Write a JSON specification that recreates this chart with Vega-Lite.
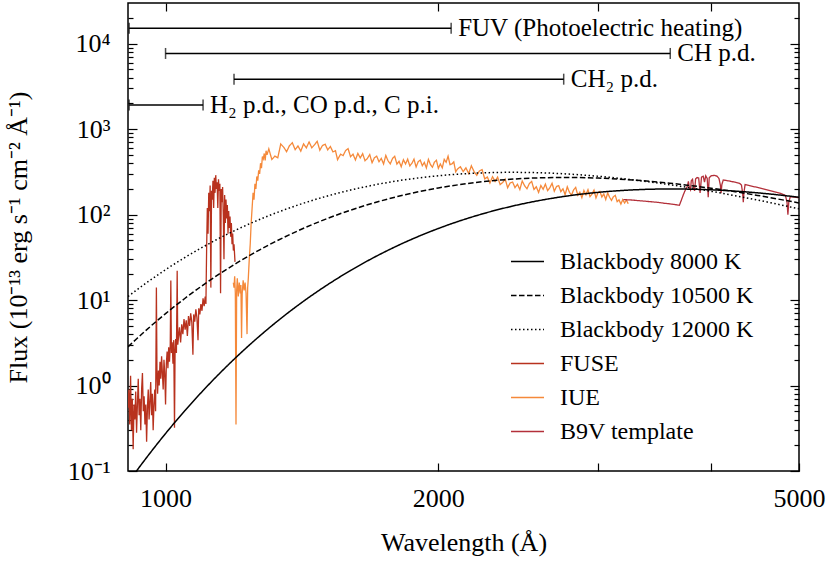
{
  "$schema": "https://vega.github.io/schema/vega-lite/v6.json",
  "autosize": {"type": "none"},
  "padding": {"left": 128, "top": 3, "right": 31, "bottom": 93},
  "width": 671,
  "height": 468,
  "background": "white",
  "config": {
    "font": "Liberation Serif, Times New Roman, serif",
    "view": {"stroke": "black", "strokeWidth": 1.5},
    "axis": {"domain": false, "grid": false, "tickColor": "black", "tickWidth": 1.2, "labelFont": "Liberation Serif, Times New Roman, serif", "titleFont": "Liberation Serif, Times New Roman, serif", "labelColor": "black", "titleColor": "black", "titleFontWeight": "normal"},
    "legend": {"labelFont": "Liberation Serif, Times New Roman, serif"},
    "text": {"font": "Liberation Serif, Times New Roman, serif"}
  },
  "datasets": {
    "spectra": [
      {"s":"FUSE","wl":909,"f":0.55},{"s":"FUSE","wl":911,"f":0.9},{"s":"FUSE","wl":913,"f":0.35},{"s":"FUSE","wl":915,"f":1.3},{"s":"FUSE","wl":917,"f":0.3},{"s":"FUSE","wl":919,"f":0.7},{"s":"FUSE","wl":921,"f":0.18},{"s":"FUSE","wl":923,"f":0.6},{"s":"FUSE","wl":925,"f":0.4},{"s":"FUSE","wl":927,"f":0.85},{"s":"FUSE","wl":929,"f":0.28},{"s":"FUSE","wl":931,"f":0.6},{"s":"FUSE","wl":933,"f":1.2},{"s":"FUSE","wl":935,"f":0.45},{"s":"FUSE","wl":937,"f":0.7},{"s":"FUSE","wl":939,"f":0.3},{"s":"FUSE","wl":941,"f":0.9},{"s":"FUSE","wl":943,"f":1.4},{"s":"FUSE","wl":945,"f":0.5},{"s":"FUSE","wl":947,"f":0.75},{"s":"FUSE","wl":949,"f":0.35},{"s":"FUSE","wl":951,"f":0.6},{"s":"FUSE","wl":953,"f":0.22},{"s":"FUSE","wl":955,"f":0.55},{"s":"FUSE","wl":957,"f":0.9},{"s":"FUSE","wl":959,"f":0.4},{"s":"FUSE","wl":961,"f":0.65},{"s":"FUSE","wl":963,"f":1.1},{"s":"FUSE","wl":965,"f":0.45},{"s":"FUSE","wl":967,"f":0.8},{"s":"FUSE","wl":969,"f":0.3},{"s":"FUSE","wl":971,"f":0.6},{"s":"FUSE","wl":973,"f":0.9},{"s":"FUSE","wl":975,"f":0.5},
      {"s":"FUSE","wl":977,"f":14},{"s":"FUSE","wl":978.5,"f":1.3},{"s":"FUSE","wl":980,"f":0.8},{"s":"FUSE","wl":982,"f":1.5},{"s":"FUSE","wl":984,"f":1.0},{"s":"FUSE","wl":986,"f":1.9},{"s":"FUSE","wl":988,"f":1.2},{"s":"FUSE","wl":990,"f":2.2},{"s":"FUSE","wl":992,"f":1.4},{"s":"FUSE","wl":994,"f":0.9},{"s":"FUSE","wl":996,"f":2.0},{"s":"FUSE","wl":998,"f":1.4},{"s":"FUSE","wl":1000,"f":0.6},{"s":"FUSE","wl":1002,"f":1.8},{"s":"FUSE","wl":1004,"f":2.5},{"s":"FUSE","wl":1006,"f":1.6},{"s":"FUSE","wl":1008,"f":2.8},{"s":"FUSE","wl":1010,"f":1.9},{"s":"FUSE","wl":1012,"f":3.0},{"s":"FUSE","wl":1013.5,"f":17},{"s":"FUSE","wl":1015,"f":2.4},{"s":"FUSE","wl":1017,"f":3.2},{"s":"FUSE","wl":1019,"f":1.8},{"s":"FUSE","wl":1021,"f":3.4},{"s":"FUSE","wl":1023,"f":0.32},{"s":"FUSE","wl":1024.5,"f":2.6},{"s":"FUSE","wl":1026,"f":3.5},{"s":"FUSE","wl":1028,"f":2.4},{"s":"FUSE","wl":1030,"f":22},{"s":"FUSE","wl":1031.5,"f":3.0},
      {"s":"FUSE","wl":1033,"f":3.5},{"s":"FUSE","wl":1036,"f":4.8},{"s":"FUSE","wl":1039,"f":3.2},{"s":"FUSE","wl":1042,"f":5.2},{"s":"FUSE","wl":1045,"f":4.0},{"s":"FUSE","wl":1048,"f":6.0},{"s":"FUSE","wl":1051,"f":4.5},{"s":"FUSE","wl":1054,"f":5.8},{"s":"FUSE","wl":1057,"f":3.8},{"s":"FUSE","wl":1060,"f":6.5},{"s":"FUSE","wl":1063,"f":5.0},{"s":"FUSE","wl":1066,"f":7.0},{"s":"FUSE","wl":1069,"f":5.5},{"s":"FUSE","wl":1072,"f":2.3},{"s":"FUSE","wl":1074,"f":6.8},{"s":"FUSE","wl":1077,"f":5.6},{"s":"FUSE","wl":1080,"f":7.8},{"s":"FUSE","wl":1083,"f":6.2},{"s":"FUSE","wl":1086,"f":3.4},{"s":"FUSE","wl":1088,"f":8.0},{"s":"FUSE","wl":1091,"f":6.8},{"s":"FUSE","wl":1094,"f":9.0},{"s":"FUSE","wl":1097,"f":7.5},{"s":"FUSE","wl":1100,"f":10.5},{"s":"FUSE","wl":1103,"f":8.5},{"s":"FUSE","wl":1106,"f":11},{"s":"FUSE","wl":1108,"f":9},
      {"s":"FUSE","wl":1110,"f":40},{"s":"FUSE","wl":1112,"f":120},{"s":"FUSE","wl":1114,"f":60},{"s":"FUSE","wl":1116,"f":180},{"s":"FUSE","wl":1118,"f":110},{"s":"FUSE","wl":1120,"f":220},{"s":"FUSE","wl":1122,"f":14},{"s":"FUSE","wl":1124,"f":190},{"s":"FUSE","wl":1126,"f":150},{"s":"FUSE","wl":1128,"f":250},{"s":"FUSE","wl":1130,"f":120},{"s":"FUSE","wl":1132,"f":270},{"s":"FUSE","wl":1134,"f":180},{"s":"FUSE","wl":1136,"f":290},{"s":"FUSE","wl":1138,"f":200},{"s":"FUSE","wl":1140,"f":240},{"s":"FUSE","wl":1142,"f":120},{"s":"FUSE","wl":1144,"f":260},{"s":"FUSE","wl":1146,"f":190},{"s":"FUSE","wl":1148,"f":230},{"s":"FUSE","wl":1150,"f":12},{"s":"FUSE","wl":1152,"f":200},{"s":"FUSE","wl":1154,"f":140},{"s":"FUSE","wl":1156,"f":210},{"s":"FUSE","wl":1158,"f":100},{"s":"FUSE","wl":1160,"f":30},{"s":"FUSE","wl":1162,"f":170},{"s":"FUSE","wl":1164,"f":80},{"s":"FUSE","wl":1166,"f":150},{"s":"FUSE","wl":1168,"f":90},{"s":"FUSE","wl":1170,"f":130},{"s":"FUSE","wl":1172,"f":60},{"s":"FUSE","wl":1174,"f":110},{"s":"FUSE","wl":1176,"f":70},{"s":"FUSE","wl":1178,"f":95},{"s":"FUSE","wl":1180,"f":55},{"s":"FUSE","wl":1182,"f":80},{"s":"FUSE","wl":1184,"f":45},{"s":"FUSE","wl":1186,"f":60},{"s":"FUSE","wl":1188,"f":38},{"s":"FUSE","wl":1190,"f":45},{"s":"FUSE","wl":1193,"f":28},
      {"s":"IUE","wl":1188,"f":16},{"s":"IUE","wl":1190,"f":14},{"s":"IUE","wl":1192,"f":19},{"s":"IUE","wl":1194,"f":12},{"s":"IUE","wl":1196,"f":0.35},{"s":"IUE","wl":1198,"f":13},{"s":"IUE","wl":1200,"f":18},{"s":"IUE","wl":1203,"f":11},{"s":"IUE","wl":1206,"f":16},{"s":"IUE","wl":1209,"f":12},{"s":"IUE","wl":1211,"f":15},{"s":"IUE","wl":1213,"f":3.6},{"s":"IUE","wl":1215,"f":12},{"s":"IUE","wl":1218,"f":17},{"s":"IUE","wl":1221,"f":13},{"s":"IUE","wl":1224,"f":16},{"s":"IUE","wl":1227,"f":12},{"s":"IUE","wl":1230,"f":4.0},{"s":"IUE","wl":1232,"f":14},{"s":"IUE","wl":1234,"f":18},{"s":"IUE","wl":1237,"f":30},{"s":"IUE","wl":1240,"f":45},{"s":"IUE","wl":1243,"f":80},{"s":"IUE","wl":1246,"f":120},{"s":"IUE","wl":1249,"f":180},{"s":"IUE","wl":1252,"f":150},{"s":"IUE","wl":1255,"f":230},{"s":"IUE","wl":1258,"f":200},{"s":"IUE","wl":1261,"f":280},{"s":"IUE","wl":1264,"f":250},{"s":"IUE","wl":1267,"f":330},{"s":"IUE","wl":1270,"f":300},{"s":"IUE","wl":1273,"f":400},{"s":"IUE","wl":1276,"f":350},{"s":"IUE","wl":1279,"f":480},{"s":"IUE","wl":1282,"f":450},{"s":"IUE","wl":1285,"f":520},{"s":"IUE","wl":1288,"f":430},{"s":"IUE","wl":1291,"f":560},{"s":"IUE","wl":1294,"f":500},
      {"s":"IUE","wl":1300,"f":589},{"s":"IUE","wl":1310,"f":442},{"s":"IUE","wl":1320,"f":484},{"s":"IUE","wl":1330,"f":463},{"s":"IUE","wl":1340,"f":672},{"s":"IUE","wl":1350,"f":617},{"s":"IUE","wl":1360,"f":546},{"s":"IUE","wl":1370,"f":641},{"s":"IUE","wl":1380,"f":695},{"s":"IUE","wl":1390,"f":577},{"s":"IUE","wl":1400,"f":636},{"s":"IUE","wl":1410,"f":554},{"s":"IUE","wl":1420,"f":674},{"s":"IUE","wl":1430,"f":605},{"s":"IUE","wl":1440,"f":710},{"s":"IUE","wl":1450,"f":607},{"s":"IUE","wl":1460,"f":658},{"s":"IUE","wl":1470,"f":722},{"s":"IUE","wl":1480,"f":567},{"s":"IUE","wl":1490,"f":645},{"s":"IUE","wl":1500,"f":667},{"s":"IUE","wl":1510,"f":573},{"s":"IUE","wl":1520,"f":628},{"s":"IUE","wl":1530,"f":543},{"s":"IUE","wl":1540,"f":560},{"s":"IUE","wl":1548,"f":440},{"s":"IUE","wl":1555,"f":480},{"s":"IUE","wl":1560,"f":510},{"s":"IUE","wl":1570,"f":491},{"s":"IUE","wl":1580,"f":562},{"s":"IUE","wl":1590,"f":593},{"s":"IUE","wl":1600,"f":476},{"s":"IUE","wl":1610,"f":510},{"s":"IUE","wl":1620,"f":437},{"s":"IUE","wl":1630,"f":522},{"s":"IUE","wl":1640,"f":461},{"s":"IUE","wl":1650,"f":517},{"s":"IUE","wl":1660,"f":428},{"s":"IUE","wl":1670,"f":455},{"s":"IUE","wl":1680,"f":505},{"s":"IUE","wl":1690,"f":405},{"s":"IUE","wl":1700,"f":463},{"s":"IUE","wl":1710,"f":484},{"s":"IUE","wl":1720,"f":416},{"s":"IUE","wl":1730,"f":455},{"s":"IUE","wl":1740,"f":392},{"s":"IUE","wl":1750,"f":493},{"s":"IUE","wl":1760,"f":427},{"s":"IUE","wl":1770,"f":393},{"s":"IUE","wl":1780,"f":454},{"s":"IUE","wl":1790,"f":483},{"s":"IUE","wl":1800,"f":391},{"s":"IUE","wl":1810,"f":421},{"s":"IUE","wl":1820,"f":364},{"s":"IUE","wl":1830,"f":440},{"s":"IUE","wl":1840,"f":392},{"s":"IUE","wl":1850,"f":446},{"s":"IUE","wl":1860,"f":372},{"s":"IUE","wl":1870,"f":399},{"s":"IUE","wl":1880,"f":446},{"s":"IUE","wl":1890,"f":361},{"s":"IUE","wl":1900,"f":416},{"s":"IUE","wl":1910,"f":435},{"s":"IUE","wl":1920,"f":374},{"s":"IUE","wl":1930,"f":409},{"s":"IUE","wl":1940,"f":352},{"s":"IUE","wl":1950,"f":444},{"s":"IUE","wl":1960,"f":387},{"s":"IUE","wl":1970,"f":359},{"s":"IUE","wl":1980,"f":411},{"s":"IUE","wl":1990,"f":434},{"s":"IUE","wl":2000,"f":349},{"s":"IUE","wl":2010,"f":392},{"s":"IUE","wl":2020,"f":353},{"s":"IUE","wl":2030,"f":443},{"s":"IUE","wl":2040,"f":410},{"s":"IUE","wl":2050,"f":484},{"s":"IUE","wl":2060,"f":385},{"s":"IUE","wl":2070,"f":392},{"s":"IUE","wl":2080,"f":415},{"s":"IUE","wl":2090,"f":317},{"s":"IUE","wl":2100,"f":343},{"s":"IUE","wl":2115,"f":364},{"s":"IUE","wl":2130,"f":319},{"s":"IUE","wl":2145,"f":353},{"s":"IUE","wl":2160,"f":303},{"s":"IUE","wl":2175,"f":373},{"s":"IUE","wl":2190,"f":319},{"s":"IUE","wl":2205,"f":289},{"s":"IUE","wl":2220,"f":325},{"s":"IUE","wl":2235,"f":337},{"s":"IUE","wl":2250,"f":262},{"s":"IUE","wl":2265,"f":276},{"s":"IUE","wl":2280,"f":234},{"s":"IUE","wl":2295,"f":278},{"s":"IUE","wl":2310,"f":245},{"s":"IUE","wl":2325,"f":275},{"s":"IUE","wl":2340,"f":225},{"s":"IUE","wl":2355,"f":238},{"s":"IUE","wl":2370,"f":261},{"s":"IUE","wl":2385,"f":207},{"s":"IUE","wl":2400,"f":235},{"s":"IUE","wl":2415,"f":241},{"s":"IUE","wl":2430,"f":207},{"s":"IUE","wl":2445,"f":227},{"s":"IUE","wl":2460,"f":197},{"s":"IUE","wl":2475,"f":248},{"s":"IUE","wl":2490,"f":218},{"s":"IUE","wl":2505,"f":201},{"s":"IUE","wl":2520,"f":231},{"s":"IUE","wl":2535,"f":245},{"s":"IUE","wl":2550,"f":197},{"s":"IUE","wl":2565,"f":212},{"s":"IUE","wl":2580,"f":182},{"s":"IUE","wl":2595,"f":219},{"s":"IUE","wl":2610,"f":198},{"s":"IUE","wl":2625,"f":228},{"s":"IUE","wl":2640,"f":191},{"s":"IUE","wl":2655,"f":207},{"s":"IUE","wl":2670,"f":233},{"s":"IUE","wl":2685,"f":188},{"s":"IUE","wl":2700,"f":213},{"s":"IUE","wl":2715,"f":219},{"s":"IUE","wl":2730,"f":186},{"s":"IUE","wl":2745,"f":201},{"s":"IUE","wl":2760,"f":171},{"s":"IUE","wl":2775,"f":212},{"s":"IUE","wl":2790,"f":183},{"s":"IUE","wl":2805,"f":169},{"s":"IUE","wl":2820,"f":195},{"s":"IUE","wl":2835,"f":209},{"s":"IUE","wl":2850,"f":169},{"s":"IUE","wl":2865,"f":183},{"s":"IUE","wl":2880,"f":158},{"s":"IUE","wl":2895,"f":192},{"s":"IUE","wl":2910,"f":171},{"s":"IUE","wl":2925,"f":196},{"s":"IUE","wl":2940,"f":163},{"s":"IUE","wl":2955,"f":174},{"s":"IUE","wl":2970,"f":194},{"s":"IUE","wl":2985,"f":157},{"s":"IUE","wl":3000,"f":180},{"s":"IUE","wl":3015,"f":187},{"s":"IUE","wl":3030,"f":161},{"s":"IUE","wl":3045,"f":175},{"s":"IUE","wl":3060,"f":150},{"s":"IUE","wl":3075,"f":180},{"s":"IUE","wl":3090,"f":160},{"s":"IUE","wl":3105,"f":147},{"s":"IUE","wl":3120,"f":162},{"s":"IUE","wl":3135,"f":168},{"s":"IUE","wl":3150,"f":142},{"s":"IUE","wl":3165,"f":149},{"s":"IUE","wl":3180,"f":133},{"s":"IUE","wl":3195,"f":150},{"s":"IUE","wl":3210,"f":137},{"s":"IUE","wl":3225,"f":148},{"s":"IUE","wl":3240,"f":134},
      {"s":"B9V template","wl":3200,"f":150},{"s":"B9V template","wl":3250,"f":149},{"s":"B9V template","wl":3300,"f":147},{"s":"B9V template","wl":3350,"f":145},{"s":"B9V template","wl":3400,"f":143},{"s":"B9V template","wl":3450,"f":141},{"s":"B9V template","wl":3500,"f":139},{"s":"B9V template","wl":3550,"f":136},{"s":"B9V template","wl":3600,"f":134},{"s":"B9V template","wl":3650,"f":131},{"s":"B9V template","wl":3690,"f":129},{"s":"B9V template","wl":3710,"f":150},{"s":"B9V template","wl":3730,"f":175},{"s":"B9V template","wl":3750,"f":200},{"s":"B9V template","wl":3765,"f":215},{"s":"B9V template","wl":3775,"f":245},{"s":"B9V template","wl":3785,"f":205},{"s":"B9V template","wl":3795,"f":195},{"s":"B9V template","wl":3803,"f":250},{"s":"B9V template","wl":3815,"f":260},{"s":"B9V template","wl":3825,"f":205},{"s":"B9V template","wl":3835,"f":190},{"s":"B9V template","wl":3845,"f":262},{"s":"B9V template","wl":3860,"f":272},{"s":"B9V template","wl":3875,"f":268},{"s":"B9V template","wl":3889,"f":180},{"s":"B9V template","wl":3903,"f":275},{"s":"B9V template","wl":3920,"f":282},{"s":"B9V template","wl":3933,"f":240},{"s":"B9V template","wl":3945,"f":285},{"s":"B9V template","wl":3960,"f":265},{"s":"B9V template","wl":3970,"f":160},{"s":"B9V template","wl":3980,"f":270},{"s":"B9V template","wl":4000,"f":285},{"s":"B9V template","wl":4030,"f":288},{"s":"B9V template","wl":4060,"f":282},{"s":"B9V template","wl":4080,"f":265},{"s":"B9V template","wl":4095,"f":220},{"s":"B9V template","wl":4102,"f":178},{"s":"B9V template","wl":4110,"f":225},{"s":"B9V template","wl":4125,"f":255},{"s":"B9V template","wl":4150,"f":252},{"s":"B9V template","wl":4200,"f":246},{"s":"B9V template","wl":4250,"f":240},{"s":"B9V template","wl":4300,"f":232},{"s":"B9V template","wl":4320,"f":222},{"s":"B9V template","wl":4333,"f":180},{"s":"B9V template","wl":4340,"f":140},{"s":"B9V template","wl":4347,"f":180},{"s":"B9V template","wl":4360,"f":225},{"s":"B9V template","wl":4400,"f":220},{"s":"B9V template","wl":4500,"f":208},{"s":"B9V template","wl":4600,"f":196},{"s":"B9V template","wl":4700,"f":185},{"s":"B9V template","wl":4780,"f":176},{"s":"B9V template","wl":4830,"f":168},{"s":"B9V template","wl":4850,"f":140},{"s":"B9V template","wl":4861,"f":100},{"s":"B9V template","wl":4872,"f":140},{"s":"B9V template","wl":4890,"f":162},{"s":"B9V template","wl":4950,"f":160},{"s":"B9V template","wl":5000,"f":158}
    ],
    "bb": [
      {"s":"Blackbody 8000 K","wl":909,"f":0.073},{"s":"Blackbody 8000 K","wl":930,"f":0.1018},{"s":"Blackbody 8000 K","wl":950,"f":0.1375},{"s":"Blackbody 8000 K","wl":975,"f":0.1963},{"s":"Blackbody 8000 K","wl":1000,"f":0.2744},{"s":"Blackbody 8000 K","wl":1050,"f":0.5058},{"s":"Blackbody 8000 K","wl":1100,"f":0.8736},{"s":"Blackbody 8000 K","wl":1150,"f":1.424},{"s":"Blackbody 8000 K","wl":1200,"f":2.208},{"s":"Blackbody 8000 K","wl":1300,"f":4.688},{"s":"Blackbody 8000 K","wl":1400,"f":8.697},{"s":"Blackbody 8000 K","wl":1500,"f":14.5},{"s":"Blackbody 8000 K","wl":1600,"f":22.21},{"s":"Blackbody 8000 K","wl":1700,"f":31.78},{"s":"Blackbody 8000 K","wl":1800,"f":42.98},{"s":"Blackbody 8000 K","wl":1900,"f":55.49},{"s":"Blackbody 8000 K","wl":2000,"f":68.92},{"s":"Blackbody 8000 K","wl":2200,"f":96.96},{"s":"Blackbody 8000 K","wl":2400,"f":124.1},{"s":"Blackbody 8000 K","wl":2600,"f":148.0},{"s":"Blackbody 8000 K","wl":2800,"f":167.6},{"s":"Blackbody 8000 K","wl":3000,"f":182.3},{"s":"Blackbody 8000 K","wl":3300,"f":195.6},{"s":"Blackbody 8000 K","wl":3600,"f":199.8},{"s":"Blackbody 8000 K","wl":4000,"f":195.4},{"s":"Blackbody 8000 K","wl":4500,"f":180.0},{"s":"Blackbody 8000 K","wl":5000,"f":160.0},
      {"s":"Blackbody 10500 K","wl":909,"f":2.839},{"s":"Blackbody 10500 K","wl":930,"f":3.559},{"s":"Blackbody 10500 K","wl":950,"f":4.364},{"s":"Blackbody 10500 K","wl":975,"f":5.548},{"s":"Blackbody 10500 K","wl":1000,"f":6.945},{"s":"Blackbody 10500 K","wl":1050,"f":10.45},{"s":"Blackbody 10500 K","wl":1100,"f":14.99},{"s":"Blackbody 10500 K","wl":1150,"f":20.62},{"s":"Blackbody 10500 K","wl":1200,"f":27.39},{"s":"Blackbody 10500 K","wl":1300,"f":44.19},{"s":"Blackbody 10500 K","wl":1400,"f":64.76},{"s":"Blackbody 10500 K","wl":1500,"f":88.1},{"s":"Blackbody 10500 K","wl":1600,"f":112.9},{"s":"Blackbody 10500 K","wl":1700,"f":138.0},{"s":"Blackbody 10500 K","wl":1800,"f":162.3},{"s":"Blackbody 10500 K","wl":1900,"f":185.0},{"s":"Blackbody 10500 K","wl":2000,"f":205.3},{"s":"Blackbody 10500 K","wl":2200,"f":237.9},{"s":"Blackbody 10500 K","wl":2400,"f":259.1},{"s":"Blackbody 10500 K","wl":2600,"f":269.9},{"s":"Blackbody 10500 K","wl":2800,"f":272.2},{"s":"Blackbody 10500 K","wl":3000,"f":267.9},{"s":"Blackbody 10500 K","wl":3300,"f":253.3},{"s":"Blackbody 10500 K","wl":3600,"f":233.3},{"s":"Blackbody 10500 K","wl":4000,"f":203.8},{"s":"Blackbody 10500 K","wl":4500,"f":168.1},{"s":"Blackbody 10500 K","wl":5000,"f":137.0},
      {"s":"Blackbody 12000 K","wl":909,"f":11.01},{"s":"Blackbody 12000 K","wl":930,"f":13.23},{"s":"Blackbody 12000 K","wl":950,"f":15.61},{"s":"Blackbody 12000 K","wl":975,"f":18.94},{"s":"Blackbody 12000 K","wl":1000,"f":22.7},{"s":"Blackbody 12000 K","wl":1050,"f":31.48},{"s":"Blackbody 12000 K","wl":1100,"f":41.91},{"s":"Blackbody 12000 K","wl":1150,"f":53.9},{"s":"Blackbody 12000 K","wl":1200,"f":67.29},{"s":"Blackbody 12000 K","wl":1300,"f":97.25},{"s":"Blackbody 12000 K","wl":1400,"f":129.7},{"s":"Blackbody 12000 K","wl":1500,"f":162.6},{"s":"Blackbody 12000 K","wl":1600,"f":194.1},{"s":"Blackbody 12000 K","wl":1700,"f":222.9},{"s":"Blackbody 12000 K","wl":1800,"f":248.0},{"s":"Blackbody 12000 K","wl":1900,"f":268.9},{"s":"Blackbody 12000 K","wl":2000,"f":285.4},{"s":"Blackbody 12000 K","wl":2200,"f":306.2},{"s":"Blackbody 12000 K","wl":2400,"f":312.8},{"s":"Blackbody 12000 K","wl":2600,"f":308.9},{"s":"Blackbody 12000 K","wl":2800,"f":297.6},{"s":"Blackbody 12000 K","wl":3000,"f":281.7},{"s":"Blackbody 12000 K","wl":3300,"f":253.6},{"s":"Blackbody 12000 K","wl":3600,"f":224.3},{"s":"Blackbody 12000 K","wl":4000,"f":187.6},{"s":"Blackbody 12000 K","wl":4500,"f":148.3},{"s":"Blackbody 12000 K","wl":5000,"f":117.0}
    ],
    "bars": [
      {"label":"FUV (Photoelectric heating)","a":911.6,"b":2066,"lev":15200},
      {"label":"CH p.d.","a":1000,"b":3605,"lev":7700},
      {"label":"CH₂ p.d.","a":1190,"b":2750,"lev":3850},
      {"label":"H₂ p.d., CO p.d., C p.i.","a":911.6,"b":1100,"lev":1920}
    ]
  },
  "layer": [
    {
      "data": {"name": "spectra"},
      "mark": {"type": "line", "strokeWidth": 1.3, "clip": true},
      "encoding": {
        "x": {"field": "wl", "type": "quantitative", "scale": {"type": "log", "domain": [909, 5000], "nice": false},
          "axis": {"orient": "bottom", "values": [1000, 2000, 3000, 4000, 5000], "labelExpr": "(datum.value == 1000 || datum.value == 2000 || datum.value == 5000) ? format(datum.value, 'd') : ''", "tickSize": -8, "labelFontSize": 26, "labelPadding": 22, "labelOverlap": false, "labelFlush": false, "title": "Wavelength (Å)", "titleFontSize": 26, "titlePadding": 18}},
        "y": {"field": "f", "type": "quantitative", "scale": {"type": "log", "domain": [0.1, 30000], "nice": false},
          "axis": {"orient": "left", "values": [0.1, 1, 10, 100, 1000, 10000], "labelExpr": "datum.value < 0.5 ? '10⁻¹' : datum.value < 5 ? '10⁰' : datum.value < 50 ? '10¹' : datum.value < 500 ? '10²' : datum.value < 5000 ? '10³' : '10⁴'", "tickSize": -9, "labelFontSize": 26, "labelPadding": 27, "labelOverlap": false, "title": "Flux (10⁻¹³ erg s⁻¹ cm⁻² Å⁻¹)", "titleFontSize": 26, "titlePadding": 36}},
        "color": {"field": "s", "type": "nominal",
          "scale": {"domain": ["Blackbody 8000 K", "Blackbody 10500 K", "Blackbody 12000 K", "FUSE", "IUE", "B9V template"], "range": ["#000000", "#000000", "#000000", "#b8321e", "#f5893a", "#b3303a"]},
          "legend": {"orient": "none", "legendX": 382, "legendY": 241, "title": null, "symbolType": "stroke", "symbolSize": 1089, "symbolStrokeWidth": 1.5, "labelFont": "Liberation Serif, Times New Roman, serif", "labelFontSize": 24, "labelColor": "black", "labelOffset": 15, "labelLimit": 400, "rowPadding": 4, "padding": 0}},
        "strokeDash": {"field": "s", "type": "nominal",
          "scale": {"domain": ["Blackbody 8000 K", "Blackbody 10500 K", "Blackbody 12000 K", "FUSE", "IUE", "B9V template"], "range": [[1, 0], [5.5, 2.5], [1.5, 2.5], [1, 0], [1, 0], [1, 0]]},
          "legend": {"orient": "none", "legendX": 382, "legendY": 241, "title": null, "symbolType": "stroke", "symbolSize": 1089, "symbolStrokeWidth": 1.5, "labelFont": "Liberation Serif, Times New Roman, serif", "labelFontSize": 24, "labelColor": "black", "labelOffset": 15, "labelLimit": 400, "rowPadding": 4, "padding": 0}}
      }
    },
    {
      "data": {"name": "bb"},
      "mark": {"type": "line", "strokeWidth": 1.5, "clip": true, "interpolate": "monotone"},
      "encoding": {
        "x": {"field": "wl", "type": "quantitative", "scale": {"type": "log", "domain": [909, 5000], "nice": false},
          "axis": {"orient": "top", "values": [1000, 2000, 3000, 4000], "tickSize": -8, "labels": false, "title": null}},
        "y": {"field": "f", "type": "quantitative", "scale": {"type": "log", "domain": [0.1, 30000], "nice": false},
          "axis": {"orient": "left", "values": [0.2, 0.3, 0.4, 0.5, 0.6, 0.7, 0.8, 0.9, 2, 3, 4, 5, 6, 7, 8, 9, 20, 30, 40, 50, 60, 70, 80, 90, 200, 300, 400, 500, 600, 700, 800, 900, 2000, 3000, 4000, 5000, 6000, 7000, 8000, 9000, 20000], "tickSize": -5, "labels": false, "title": null}},
        "color": {"field": "s", "type": "nominal",
          "scale": {"domain": ["Blackbody 8000 K", "Blackbody 10500 K", "Blackbody 12000 K", "FUSE", "IUE", "B9V template"], "range": ["#000000", "#000000", "#000000", "#b8321e", "#f5893a", "#b3303a"]},
          "legend": {"orient": "none", "legendX": 382, "legendY": 241, "title": null, "symbolType": "stroke", "symbolSize": 1089, "symbolStrokeWidth": 1.5, "labelFont": "Liberation Serif, Times New Roman, serif", "labelFontSize": 24, "labelColor": "black", "labelOffset": 15, "labelLimit": 400, "rowPadding": 4, "padding": 0}},
        "strokeDash": {"field": "s", "type": "nominal",
          "scale": {"domain": ["Blackbody 8000 K", "Blackbody 10500 K", "Blackbody 12000 K", "FUSE", "IUE", "B9V template"], "range": [[1, 0], [5.5, 2.5], [1.5, 2.5], [1, 0], [1, 0], [1, 0]]},
          "legend": {"orient": "none", "legendX": 382, "legendY": 241, "title": null, "symbolType": "stroke", "symbolSize": 1089, "symbolStrokeWidth": 1.5, "labelFont": "Liberation Serif, Times New Roman, serif", "labelFontSize": 24, "labelColor": "black", "labelOffset": 15, "labelLimit": 400, "rowPadding": 4, "padding": 0}}
      }
    },
    {
      "data": {"name": "bars"},
      "mark": {"type": "rule", "color": "black", "strokeWidth": 1.5},
      "encoding": {
        "x": {"field": "a", "type": "quantitative", "scale": {"type": "log", "domain": [909, 5000], "nice": false}, "axis": null},
        "x2": {"field": "b"},
        "y": {"field": "lev", "type": "quantitative", "scale": {"type": "log", "domain": [0.1, 30000], "nice": false},
          "axis": {"orient": "right", "values": [0.1, 1, 10, 100, 1000, 10000], "tickSize": -9, "labels": false, "title": null}}
      }
    },
    {
      "data": {"name": "bars"},
      "transform": [{"fold": ["a", "b"], "as": ["end", "wl"]}],
      "mark": {"type": "tick", "orient": "vertical", "size": 11, "thickness": 1.5, "color": "black"},
      "encoding": {
        "x": {"field": "wl", "type": "quantitative", "scale": {"type": "log", "domain": [909, 5000], "nice": false}, "axis": null},
        "y": {"field": "lev", "type": "quantitative", "scale": {"type": "log", "domain": [0.1, 30000], "nice": false},
          "axis": {"orient": "right", "values": [0.2, 0.3, 0.4, 0.5, 0.6, 0.7, 0.8, 0.9, 2, 3, 4, 5, 6, 7, 8, 9, 20, 30, 40, 50, 60, 70, 80, 90, 200, 300, 400, 500, 600, 700, 800, 900, 2000, 3000, 4000, 5000, 6000, 7000, 8000, 9000, 20000], "tickSize": -5, "labels": false, "title": null}}
      }
    },
    {
      "data": {"name": "bars"},
      "mark": {"type": "text", "align": "left", "baseline": "middle", "dx": 7, "font": "Liberation Serif, Times New Roman, serif", "fontSize": 25, "color": "black"},
      "encoding": {
        "x": {"field": "b", "type": "quantitative", "scale": {"type": "log", "domain": [909, 5000], "nice": false}, "axis": null},
        "y": {"field": "lev", "type": "quantitative", "scale": {"type": "log", "domain": [0.1, 30000], "nice": false}, "axis": null},
        "text": {"field": "label"}
      }
    }
  ],
  "resolve": {"axis": {"x": "independent", "y": "independent"}}
}
